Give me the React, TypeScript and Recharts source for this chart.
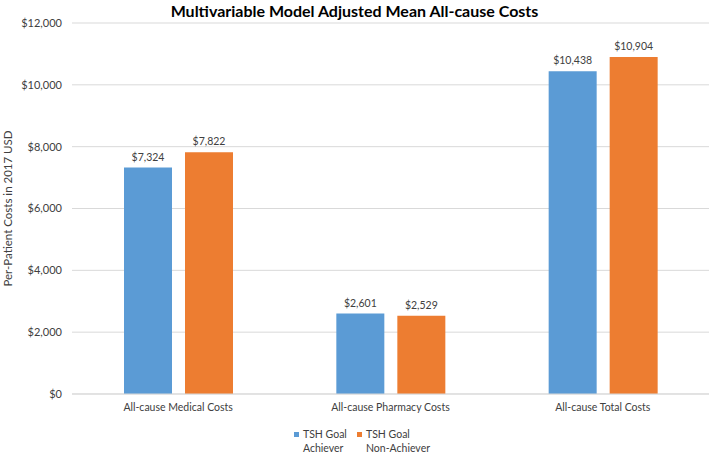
import { BarChart, Bar, XAxis, YAxis, CartesianGrid, LabelList } from "recharts";

const categories = ["All-cause Medical Costs", "All-cause Pharmacy Costs", "All-cause Total Costs"];
const achiever = [7324, 2601, 10438];
const nonAchiever = [7822, 2529, 10904];
const yTicks = [0, 2000, 4000, 6000, 8000, 10000, 12000];

const data = categories.map((name, i) => ({ name, achiever: achiever[i], nonAchiever: nonAchiever[i] }));

const BLUE = "#5B9BD5";
const ORANGE = "#ED7D31";
const FONT = "Lato, 'Open Sans', sans-serif";

const money = (v: number) => "$" + v.toLocaleString("en-US");

const LegendItem = ({ color, label, width }: { color: string; label: string[]; width: number }) => (
  <div style={{ display: "flex", alignItems: "flex-start", width }}>
    <div style={{ width: 5, height: 5, background: color, marginTop: 5, marginRight: 4 }} />
    <div style={{ lineHeight: "14px", whiteSpace: "nowrap" }}>
      {label.map((l, i) => (
        <div key={i}>{l}</div>
      ))}
    </div>
  </div>
);

const App = () => (
  <div style={{ position: "relative", width: 709, height: 455, fontFamily: FONT, background: "#fff" }}>
    <style>{`body{margin:0}`}</style>
    <div style={{ position: "absolute", top: 1, left: 0, width: 709, textAlign: "center", fontWeight: 700, fontSize: 16, color: "#000" }}>
      Multivariable Model Adjusted Mean All-cause Costs
    </div>
    <BarChart width={709} height={455} data={data} margin={{ top: 23, right: 0, bottom: 31, left: 0 }} barSize={48} barGap={13}>
      <CartesianGrid vertical={false} stroke="#D9D9D9" />
      <XAxis
        dataKey="name"
        height={30}
        tickSize={0}
        tickMargin={10}
        stroke="#D9D9D9"
        tick={{ fontSize: 10.5, fill: "#404040", fontFamily: FONT }}
      />
      <YAxis
        width={72}
        domain={[0, 12000]}
        ticks={yTicks}
        tickFormatter={money}
        axisLine={false}
        tickLine={false}
        tickSize={0}
        tickMargin={10}
        tick={{ fontSize: 11, fill: "#404040", fontFamily: FONT }}
        label={{ value: "Per-Patient Costs in 2017 USD", angle: -90, position: "insideLeft", dx: 3, style: { textAnchor: "middle", fontSize: 11.5, fill: "#404040", fontFamily: FONT } }}
      />
      <Bar dataKey="achiever" fill={BLUE} isAnimationActive={false}>
        <LabelList dataKey="achiever" position="top" offset={7} formatter={(v: any) => money(Number(v))} style={{ fontSize: 10.5, fill: "#404040", fontFamily: FONT }} />
      </Bar>
      <Bar dataKey="nonAchiever" fill={ORANGE} isAnimationActive={false}>
        <LabelList dataKey="nonAchiever" position="top" offset={7} formatter={(v: any) => money(Number(v))} style={{ fontSize: 10.5, fill: "#404040", fontFamily: FONT }} />
      </Bar>
    </BarChart>
    <div style={{ position: "absolute", top: 427, left: 294, display: "flex", fontSize: 10.5, color: "#404040" }}>
      <LegendItem color={BLUE} label={["TSH Goal", "Achiever"]} width={63} />
      <LegendItem color={ORANGE} label={["TSH Goal", "Non-Achiever"]} width={80} />
    </div>
  </div>
);

export default App;
